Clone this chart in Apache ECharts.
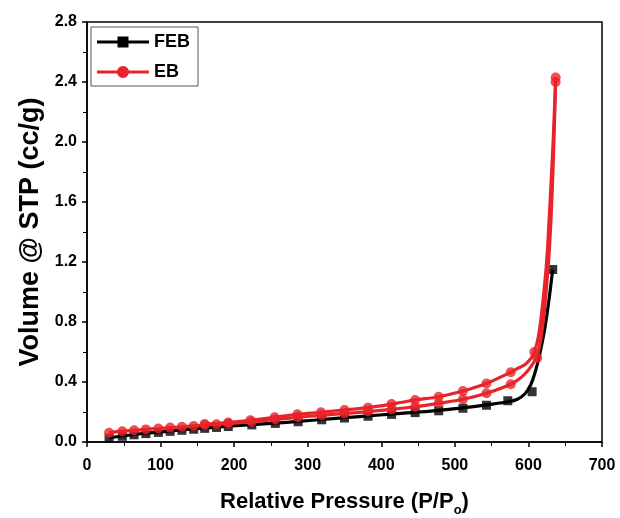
<!DOCTYPE html>
<html><head><meta charset="utf-8">
<script src="https://cdn.jsdelivr.net/npm/echarts@6/dist/echarts.min.js"></script>
<style>html,body{margin:0;padding:0;background:#fff}#c{width:620px;height:518px}</style>
</head><body><div id="c"></div>
<script>
// FEB (black squares) measured points
const febPtsX = [30,48,64,80,97,113,129,145,160,176,192,224,256,287,319,350,382,414,446,478,511,543,572,605,633];
const febPtsY = [0.025,0.038,0.048,0.056,0.064,0.071,0.078,0.085,0.091,0.097,0.103,0.114,0.124,0.135,0.148,0.160,0.172,0.184,0.196,0.208,0.225,0.245,0.275,0.335,1.15];
// FEB fitted curve (as drawn)
const febCurveX = [30,48,64,80,97,113,129,145,160,176,192,224,256,287,319,350,382,414,446,478,511,543,573,585,595,603,610,616,622,628,633];
const febCurveY = [0.028,0.040,0.050,0.058,0.066,0.073,0.080,0.087,0.093,0.099,0.105,0.116,0.126,0.137,0.150,0.162,0.174,0.186,0.198,0.211,0.228,0.248,0.268,0.285,0.32,0.38,0.48,0.60,0.75,0.95,1.15];
// EB (red circles) adsorption points
const ebAdsX = [30,48,64,80,97,113,129,145,160,176,192,224,256,287,319,350,382,414,446,478,511,543,576,612,637];
const ebAdsY = [0.062,0.072,0.078,0.084,0.090,0.096,0.101,0.107,0.113,0.118,0.123,0.135,0.150,0.165,0.178,0.190,0.203,0.217,0.235,0.258,0.285,0.325,0.385,0.56,2.40];
// EB desorption points
const ebDesX = [637,608,576,543,511,478,446,414,382,350,318,286,255,222,192,160];
const ebDesY = [2.43,0.60,0.465,0.39,0.34,0.302,0.28,0.253,0.229,0.213,0.198,0.185,0.165,0.145,0.13,0.12];
// EB fitted curves (as drawn)
const ebAdsCurveX = [30,48,64,80,97,113,129,145,160,176,192,224,256,287,319,350,382,414,446,478,511,543,576,590,600,607,612,616,620,624,628,631,634,637];
const ebAdsCurveY = [0.062,0.072,0.078,0.084,0.090,0.096,0.101,0.107,0.113,0.118,0.123,0.135,0.150,0.165,0.178,0.190,0.203,0.217,0.235,0.258,0.285,0.325,0.385,0.43,0.48,0.53,0.58,0.66,0.80,1.0,1.25,1.52,1.90,2.40];
const ebDesCurveX = [637,634,631,628,625,621,617,613,608,603,595,585,576,543,511,478,446,414,382,350,318,286,255,222,192,160];
const ebDesCurveY = [2.43,2.05,1.75,1.47,1.22,1.0,0.82,0.69,0.60,0.555,0.515,0.49,0.465,0.39,0.34,0.302,0.28,0.253,0.229,0.213,0.198,0.185,0.165,0.145,0.13,0.12];
const xTicks = {min:0,max:700,interval:100};
const yTicks = {min:0,max:2.8,interval:0.4};

const pairs = (xs, ys) => xs.map((x,i)=>[x, ys[i]]);
const font = '"Liberation Sans", Arial, sans-serif';
const BLACK = '#000000', RED = '#e8232a';
const chart = echarts.init(document.getElementById('c'), null, {renderer:'canvas'});
const curve = (name, data, color, z) => ({
  name, type:'line', data, smooth:0.3, symbol:'none',
  lineStyle:{color, width:3.2}, itemStyle:{color}, z
});
const pts = (name, data, color, symbol, size, z) => ({
  name, type:'scatter', data, symbol, symbolSize:size, itemStyle:{color}, z
});
const iconSq = 'path://M0,4.6 L52,4.6 L52,7.4 L0,7.4 Z M20.5,0.5 L31.5,0.5 L31.5,11.5 L20.5,11.5 Z';
const iconCi = 'path://M0,4.6 L52,4.6 L52,7.4 L0,7.4 Z M20,6 A6,6 0 1 1 32,6 A6,6 0 1 1 20,6 Z';
chart.setOption({
  animation:false,
  backgroundColor:'#fff',
  grid:{left:87, right:18, top:22, bottom:76, containLabel:false, outerBoundsMode:'none',
    show:true, borderColor:'#000', borderWidth:1.5, backgroundColor:'transparent'},
  legend:{
    left:91, top:27, orient:'vertical', itemWidth:52, itemHeight:12, itemGap:12,
    padding:[6,8,5,6],
    borderColor:'#555', borderWidth:1,
    textStyle:{fontFamily:font, fontWeight:'bold', fontSize:18, color:'#000'},
    data:[{name:'FEB', icon:iconSq},{name:'EB', icon:iconCi}]
  },
  xAxis:{
    type:'value', min:xTicks.min, max:xTicks.max, interval:xTicks.interval,
    name:'Relative Pressure (P/P{s|o})', nameLocation:'middle', nameGap:44,
    nameTextStyle:{fontFamily:font, fontWeight:'bold', fontSize:22, color:'#000',
      rich:{s:{fontFamily:font, fontWeight:'bold', fontSize:13, verticalAlign:'bottom', padding:[18,0,0,0]}}},
    axisLine:{lineStyle:{color:'#000', width:1.5}},
    axisTick:{show:true, inside:false, length:5, lineStyle:{color:'#000', width:1.5}},
    minorTick:{show:true, splitNumber:2, length:4, lineStyle:{color:'#000', width:1}},
    axisLabel:{fontFamily:font, fontWeight:'bold', fontSize:16, color:'#000', margin:16},
    splitLine:{show:false}
  },
  yAxis:{
    type:'value', min:yTicks.min, max:yTicks.max, interval:yTicks.interval,
    name:'Volume @ STP (cc/g)', nameLocation:'middle', nameGap:43,
    nameTextStyle:{fontFamily:font, fontWeight:'bold', fontSize:27, color:'#000'},
    axisLine:{show:true, lineStyle:{color:'#000', width:1.5}},
    axisTick:{show:true, inside:false, length:5, lineStyle:{color:'#000', width:1.5}},
    minorTick:{show:true, splitNumber:2, length:4, lineStyle:{color:'#000', width:1}},
    axisLabel:{fontFamily:font, fontWeight:'bold', fontSize:16, color:'#000', margin:10,
      formatter:v=>v.toFixed(1)},
    splitLine:{show:false}
  },
  series:[
    curve('FEB', pairs(febCurveX, febCurveY), BLACK, 2),
    pts('FEB', pairs(febPtsX, febPtsY), BLACK, 'rect', 9, 3),
    curve('EB', pairs(ebAdsCurveX, ebAdsCurveY), RED, 4),
    curve('EB', pairs(ebDesCurveX, ebDesCurveY), RED, 4),
    pts('EB', pairs(ebAdsX, ebAdsY), RED, 'circle', 10, 5),
    pts('EB', pairs(ebDesX, ebDesY), RED, 'circle', 10, 5)
  ]
});
</script></body></html>
